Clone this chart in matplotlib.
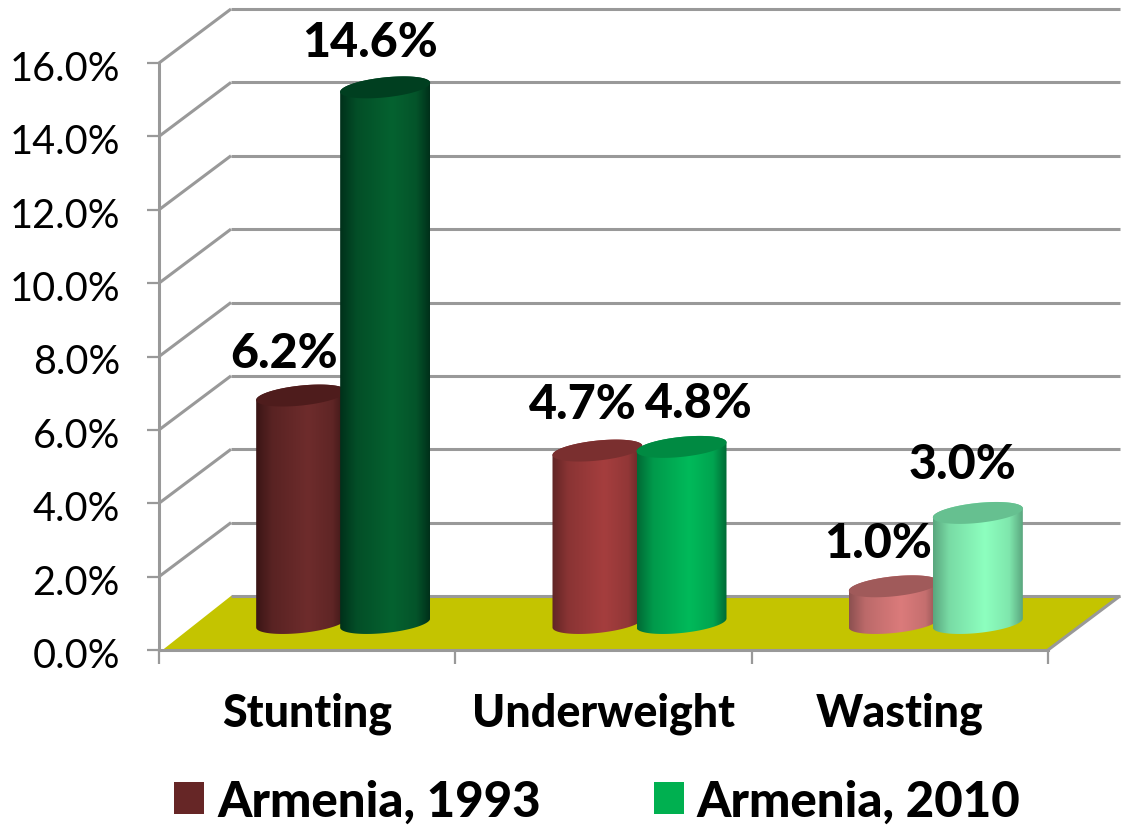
import numpy as np
import matplotlib
matplotlib.use("Agg")
import matplotlib.pyplot as plt
from matplotlib.colors import to_rgb
from matplotlib.patches import Patch, PathPatch, Polygon
from matplotlib.path import Path
from matplotlib.transforms import ScaledTranslation

plt.rcParams['font.family'] = ['Lato', 'DejaVu Sans']

categories = ["Stunting", "Underweight", "Wasting"]
series_names = ["Armenia, 1993", "Armenia, 2010"]
values_1993 = [6.2, 4.7, 1.0]
values_2010 = [14.6, 4.8, 3.0]
labels_1993 = ["6.2%", "4.7%", "1.0%"]
labels_2010 = ["14.6%", "4.8%", "3.0%"]
y_ticks = [0, 2, 4, 6, 8, 10, 12, 14, 16]
y_tick_labels = ["0.0%", "2.0%", "4.0%", "6.0%", "8.0%", "10.0%", "12.0%", "14.0%", "16.0%"]

# per-bar styles: (edge, mid, cap)
style_1993 = [("#3A1515", "#6E2C2C", "#4E1C1C"),
              ("#612525", "#A53E3E", "#7A2F2F"),
              ("#8C5050", "#DB7B7B", "#A05A5A")]
style_2010 = [("#00301A", "#056230", "#003F20"),
              ("#006A35", "#00BA5A", "#008A42"),
              ("#5AA67E", "#8DFFBF", "#66C090")]
label_dx_1993 = [-17, -15, -16]
label_dy_1993 = [44, 48, 44]
label_dx_2010 = [-15, 17, -15]
label_dy_2010 = [46, 45, 50]

W, H, DPI = 1124, 829, 100
GRID = "#999999"
FLOOR = "#C4C400"
L, R, B, T = 159, 1048, 651, 64
HEAVY = 900

fig = plt.figure(figsize=(W / DPI, H / DPI), dpi=DPI)
ax = fig.add_axes([L / W, 1 - B / H, (R - L) / W, (B - T) / H])
ax.set_xlim(-0.5, 2.5)
ax.set_ylim(0, 16)
ax.patch.set_alpha(0)

px_x = (R - L) / 3.0
px_y = (B - T) / 16.0
depth_x = 72 / px_x
depth_y = 54 / px_y

# walls
line_kw = dict(color=GRID, lw=2.2, clip_on=False, solid_capstyle="butt", zorder=2)
ax.add_patch(Polygon([(-0.5 + 0.012, 0), (-0.5 + depth_x, depth_y),
                      (2.5 + depth_x, depth_y), (2.5, 0)],
                     closed=True, fc=FLOOR, ec="none", clip_on=False, zorder=1))
for v in y_ticks:
    if v > 0:
        ax.plot([-0.5, -0.5 + depth_x], [v, v + depth_y], **line_kw)
    ax.plot([-0.5 + depth_x, 2.5 + depth_x], [v + depth_y, v + depth_y], **line_kw)
ax.plot([2.5, 2.5 + depth_x], [0, depth_y], **line_kw)

# cylinders
half_w = 45 / px_x
minor = 10.0 / px_y
shear = 4.5 / px_y
offset = 42 / px_x


def ring(x, y, t):
    return np.column_stack([x + half_w * np.cos(t),
                            y + shear * np.cos(t) + minor * np.sin(t)])


def gradient(edge, mid):
    e, m = np.array(to_rgb(edge)), np.array(to_rgb(mid))
    u = np.linspace(0, 1, 256)
    mix = np.interp(u, [0, 0.18, 0.58, 0.85, 1], [0, 0.6, 1, 0.72, 0])
    return (e[None, :] + (m - e)[None, :] * mix[:, None])[None, :, :]


def cylinder(x, value, style, z):
    edge, mid, cap = style
    y0 = depth_y / 2
    y1 = y0 + value
    lower = ring(x, y0, np.linspace(np.pi, 2 * np.pi, 60))
    upper = ring(x, y1, np.linspace(0, np.pi, 60))
    body = Path(np.vstack([lower, upper, lower[:1]]), closed=False)
    patch = PathPatch(body, transform=ax.transData, fc="none", ec="none")
    im = ax.imshow(gradient(edge, mid), aspect="auto", zorder=z,
                   extent=[x - half_w, x + half_w, y0 - 1, y1 + 1],
                   interpolation="bilinear")
    im.set_clip_path(patch)
    top = ring(x, y1, np.linspace(0, 2 * np.pi, 120))
    ax.add_patch(Polygon(top, closed=True, fc=cap, ec="none", clip_on=False, zorder=z + 0.1))
    return y1


for i in range(len(categories)):
    cx = i + depth_x / 2
    top_a = cylinder(cx - offset, values_1993[i], style_1993[i], 3)
    top_b = cylinder(cx + offset, values_2010[i], style_2010[i], 4)
    for xx, yy, s, dx, dy in [(cx - offset, top_a, labels_1993[i], label_dx_1993[i], label_dy_1993[i]),
                              (cx + offset, top_b, labels_2010[i], label_dx_2010[i], label_dy_2010[i])]:
        ax.annotate(s, (xx, yy), xytext=(dx, dy - 1), textcoords="offset pixels",
                    ha="center", va="center", fontsize=34.8, fontweight=HEAVY,
                    color="black", annotation_clip=False, zorder=6)

ax.set_xlim(-0.5, 2.5)
ax.set_ylim(0, 16)

# axes
for s in ("top", "right"):
    ax.spines[s].set_visible(False)
for s in ("left", "bottom"):
    ax.spines[s].set_color(GRID)
    ax.spines[s].set_linewidth(2.2)
    ax.spines[s].set_zorder(2.5)
ax.set_yticks(y_ticks)
ax.set_yticklabels(y_tick_labels, fontsize=28.5, color="black")
ax.tick_params(axis="y", length=8.6, width=1.6, color=GRID, pad=19.5)
shift = ScaledTranslation(0, -2 / DPI, fig.dpi_scale_trans)
for lab in ax.get_yticklabels():
    lab.set_transform(lab.get_transform() + shift)
ax.set_xticks([-0.5, 0.5, 1.5, 2.5])
ax.set_xticklabels([])
ax.tick_params(axis="x", which="major", length=10, width=1.6, color=GRID)
ax.set_xticks([0, 1, 2], minor=True)
ax.set_xticklabels(categories, minor=True, fontsize=32.2, fontweight=HEAVY, color="black")
ax.tick_params(axis="x", which="minor", length=0, pad=30)

handles = [Patch(fc="#662626", ec="none"), Patch(fc="#00B050", ec="none")]
fig.legend(handles, series_names, loc="center", bbox_to_anchor=(597.5 / W, 1 - 802 / H),
           ncol=2, frameon=False, prop=dict(size=35.4, weight=HEAVY),
           handlelength=0.61, handleheight=0.61, handletextpad=0.26, columnspacing=2.3,
           borderpad=0)

fig.savefig("out.png", dpi=DPI)
